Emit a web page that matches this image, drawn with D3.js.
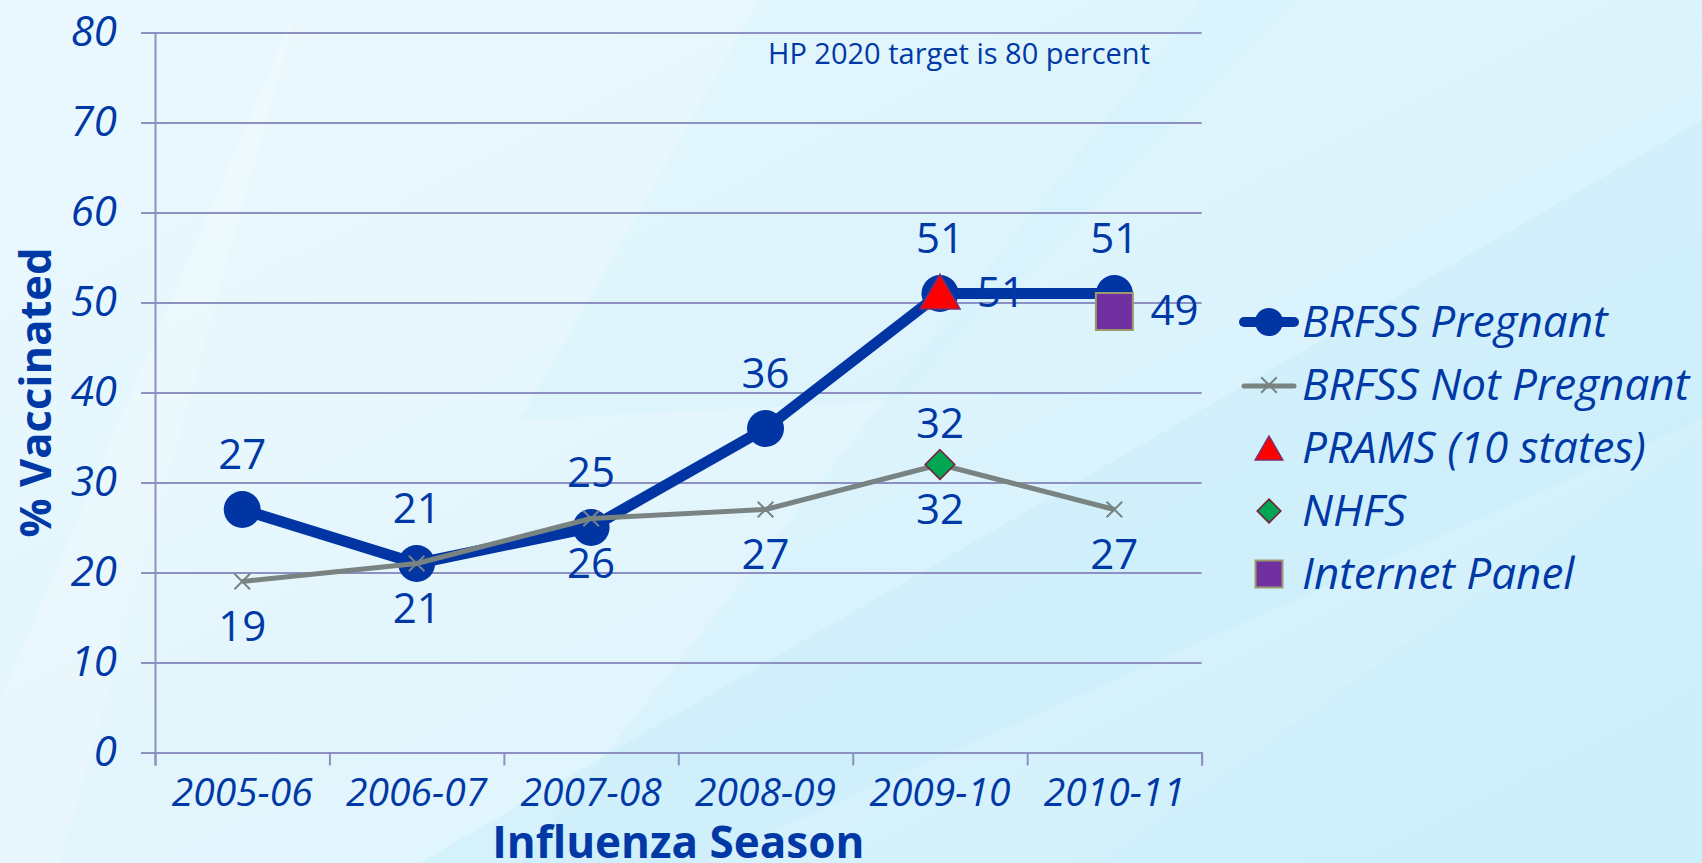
<!DOCTYPE html>
<html>
<head>
<meta charset="utf-8">
<script src="https://cdn.jsdelivr.net/npm/d3@7"></script>
<style>
  html, body { margin: 0; padding: 0; overflow: hidden; }
  body { width: 1702px; height: 863px; }
  svg { display: block; }
  text { font-family: "Open Sans", "Noto Sans", sans-serif; }
</style>
</head>
<body>
<svg id="chart" width="1702" height="863"></svg>
<script>
// ---------- data ----------
const seasons = ["2005-06", "2006-07", "2007-08", "2008-09", "2009-10", "2010-11"];
const brfssPregnant = [27, 21, 25, 36, 51, 51];
const brfssNotPregnant = [19, 21, 26, 27, 32, 27];
const pramsSeason = ["2009-10"];
const pramsValues = [51];
const nhfsSeason = ["2009-10"];
const nhfsValues = [32];
const internetSeason = ["2010-11"];
const internetValues = [49];
const yTicks = [0, 10, 20, 30, 40, 50, 60, 70, 80];
const legendLabels = ["BRFSS Pregnant", "BRFSS Not Pregnant", "PRAMS (10 states)", "NHFS", "Internet Panel"];

// ---------- styles ----------
const TEXT = "#0039a6";
const BLUE = "#0035a3";
const GRAY = "#788382";
const GRID = "#8c90c2";

const svg = d3.select("#chart");

// ---------- background ----------
const defs = svg.append("defs");
const bg = defs.append("linearGradient").attr("id", "bg")
  .attr("x1", "0").attr("y1", "0").attr("x2", "1").attr("y2", "1");
bg.append("stop").attr("offset", "0").attr("stop-color", "#e6f8fe");
bg.append("stop").attr("offset", "0.55").attr("stop-color", "#dbf3fc");
bg.append("stop").attr("offset", "1").attr("stop-color", "#cdeffb");
svg.append("rect").attr("width", 1702).attr("height", 863).attr("fill", "url(#bg)");
const bands = [
  {pts: "300,0 1200,0 520,863 0,863 0,700", fill: "#ffffff", op: 0.22},
  {pts: "0,0 300,0 60,863 0,863", fill: "#ffffff", op: 0.18},
  {pts: "1702,120 1702,420 700,863 420,863", fill: "#bfeafa", op: 0.35},
  {pts: "1702,430 1702,863 1100,863", fill: "#c6edfb", op: 0.3},
  {pts: "760,0 1300,0 900,400 520,420", fill: "#cdeffc", op: 0.25}
];
svg.append("g").selectAll("polygon").data(bands).join("polygon")
  .attr("points", d => d.pts).attr("fill", d => d.fill).attr("opacity", d => d.op);

// ---------- scales ----------
const pLeft = 155, pRight = 1201.6, pTop = 32.5, pBottom = 752.5;
const x = d3.scaleBand().domain(seasons).range([pLeft, pRight]);
const xEdge = d3.scaleLinear().domain([0, seasons.length]).range([pLeft, pRight]);
const y = d3.scaleLinear().domain([0, 80]).range([pBottom, pTop]);
const cx = s => x(s) + x.bandwidth() / 2;

// ---------- grid + y axis ----------
const yAxis = svg.append("g").attr("transform", `translate(${pLeft},0)`)
  .call(d3.axisLeft(y).tickValues(yTicks).tickSize(14).tickPadding(24).tickFormat(d3.format("d")));
yAxis.select(".domain").attr("stroke", GRID).attr("stroke-width", 2);
yAxis.selectAll(".tick line").attr("stroke", GRID).attr("stroke-width", 2);
yAxis.selectAll(".tick text").attr("fill", TEXT).attr("font-size", 42)
  .attr("font-style", "italic").attr("dy", "0.3em");
svg.append("g").attr("transform", `translate(${pLeft},0)`)
  .call(d3.axisLeft(y).tickValues(yTicks.filter(v => v > 0)).tickSize(-(pRight - pLeft)).tickFormat(""))
  .call(g => g.select(".domain").remove())
  .selectAll(".tick line").attr("stroke", GRID).attr("stroke-width", 2);

// ---------- x axis ----------
const xTicksG = svg.append("g").attr("transform", `translate(0,${pBottom})`)
  .call(d3.axisBottom(xEdge).ticks(seasons.length).tickSize(13).tickFormat(""));
xTicksG.select(".domain").attr("stroke", GRID).attr("stroke-width", 2);
xTicksG.selectAll(".tick line").attr("stroke", GRID).attr("stroke-width", 2);
const xLab = svg.append("g").attr("transform", `translate(0,${pBottom})`)
  .call(d3.axisBottom(x).tickSize(0).tickPadding(26));
xLab.select(".domain").remove();
xLab.selectAll(".tick text").attr("fill", TEXT).attr("font-size", 39).attr("font-style", "italic");

// ---------- titles ----------
svg.append("text").attr("x", (pLeft + pRight) / 2).attr("y", 858).attr("text-anchor", "middle")
  .attr("fill", TEXT).attr("font-size", 44).attr("font-weight", "bold").text("Influenza Season");
svg.append("text").attr("transform", `translate(51,${(pTop + pBottom) / 2}) rotate(-90)`)
  .attr("text-anchor", "middle").attr("fill", TEXT).attr("font-size", 43.5).attr("font-weight", "bold")
  .text("% Vaccinated");
svg.append("text").attr("x", 768).attr("y", 64).attr("fill", TEXT).attr("font-size", 29)
  .text("HP 2020 target is 80 percent");

// ---------- BRFSS Pregnant ----------
const preg = seasons.map((s, i) => ({s, v: brfssPregnant[i]}));
const notp = seasons.map((s, i) => ({s, v: brfssNotPregnant[i]}));
const line = d3.line().x(d => cx(d.s)).y(d => y(d.v));
svg.append("path").datum(preg).attr("d", line).attr("fill", "none")
  .attr("stroke", BLUE).attr("stroke-width", 11).attr("stroke-linejoin", "round");
svg.append("g").selectAll("circle").data(preg).join("circle")
  .attr("cx", d => cx(d.s)).attr("cy", d => y(d.v)).attr("r", 18.5).attr("fill", BLUE);

// ---------- BRFSS Not Pregnant ----------
svg.append("path").datum(notp).attr("d", line).attr("fill", "none")
  .attr("stroke", GRAY).attr("stroke-width", 5).attr("stroke-linejoin", "round");
const crossSym = d3.symbol().type(d3.symbolX).size(160);
svg.append("g").selectAll("path").data(notp).join("path")
  .attr("transform", d => `translate(${cx(d.s)},${y(d.v)})`)
  .attr("d", crossSym).attr("fill", "none").attr("stroke", GRAY).attr("stroke-width", 2);

// ---------- other sources ----------
const prams = pramsSeason.map((s, i) => ({s, v: pramsValues[i]}));
const nhfs = nhfsSeason.map((s, i) => ({s, v: nhfsValues[i]}));
const inet = internetSeason.map((s, i) => ({s, v: internetValues[i]}));
svg.append("g").selectAll("path").data(prams).join("path")
  .attr("transform", d => `translate(${cx(d.s)},${y(d.v) + 4})`)
  .attr("d", d3.symbol().type(d3.symbolTriangle).size(700))
  .attr("fill", "#ff0000").attr("stroke", "#7a2f6e").attr("stroke-width", 1.5);
svg.append("g").selectAll("path").data(nhfs).join("path")
  .attr("transform", d => `translate(${cx(d.s)},${y(d.v)})`)
  .attr("d", d3.symbol().type(d3.symbolDiamond2).size(560))
  .attr("fill", "#00a651").attr("stroke", "#7b1c3c").attr("stroke-width", 1.5);
svg.append("g").selectAll("rect").data(inet).join("rect")
  .attr("x", d => cx(d.s) - 18.5).attr("y", d => y(d.v) - 18.5).attr("width", 37).attr("height", 37)
  .attr("fill", "#7030a0").attr("stroke", "#9c9a6c").attr("stroke-width", 2);

// ---------- data labels ----------
const lab = svg.append("g").attr("fill", TEXT).attr("font-size", 42).attr("text-anchor", "middle");
lab.selectAll("text.p").data(preg).join("text").attr("class", "p")
  .attr("x", d => cx(d.s)).attr("y", d => y(d.v) - 41).text(d => d.v);
lab.selectAll("text.n").data(notp).join("text").attr("class", "n")
  .attr("x", d => cx(d.s)).attr("y", d => y(d.v) + 59).text(d => d.v);
lab.selectAll("text.h").data(nhfs).join("text").attr("class", "h")
  .attr("x", d => cx(d.s)).attr("y", d => y(d.v) - 27).text(d => d.v);
lab.selectAll("text.r").data(prams).join("text").attr("class", "r")
  .attr("x", d => cx(d.s) + 37).attr("y", d => y(d.v) + 13).attr("text-anchor", "start").text(d => d.v);
lab.selectAll("text.i").data(inet).join("text").attr("class", "i")
  .attr("x", d => cx(d.s) + 36).attr("y", d => y(d.v) + 13).attr("text-anchor", "start").text(d => d.v);

// ---------- legend ----------
const lg = svg.append("g").attr("transform", "translate(1269,322)");
const step = 63;
const items = lg.selectAll("g").data(legendLabels).join("g")
  .attr("transform", (d, i) => `translate(0,${i * step})`);
items.append("text").attr("x", 33).attr("y", 15).attr("fill", TEXT).attr("font-size", 44)
  .attr("font-style", "italic").text(d => d);
const i0 = items.filter((d, i) => i === 0);
i0.append("line").attr("x1", -25).attr("x2", 25).attr("stroke", BLUE).attr("stroke-width", 10).attr("stroke-linecap", "round");
i0.append("circle").attr("r", 14).attr("fill", BLUE);
const i1 = items.filter((d, i) => i === 1);
i1.append("line").attr("x1", -25).attr("x2", 25).attr("y1", 1).attr("y2", 1).attr("stroke", GRAY).attr("stroke-width", 5).attr("stroke-linecap", "round");
i1.append("path").attr("d", d3.symbol().type(d3.symbolX).size(160)).attr("fill", "none").attr("stroke", GRAY).attr("stroke-width", 2);
items.filter((d, i) => i === 2).append("path").attr("transform", "translate(0,4)")
  .attr("d", d3.symbol().type(d3.symbolTriangle).size(330)).attr("fill", "#ff0000").attr("stroke", "#7a2f6e").attr("stroke-width", 1.5);
items.filter((d, i) => i === 3).append("path")
  .attr("d", d3.symbol().type(d3.symbolDiamond2).size(360)).attr("fill", "#00a651").attr("stroke", "#7b1c3c").attr("stroke-width", 1.5);
items.filter((d, i) => i === 4).append("rect").attr("x", -13.5).attr("y", -13.5).attr("width", 27).attr("height", 27)
  .attr("fill", "#7030a0").attr("stroke", "#9c9a6c").attr("stroke-width", 2);
</script>
</body>
</html>
